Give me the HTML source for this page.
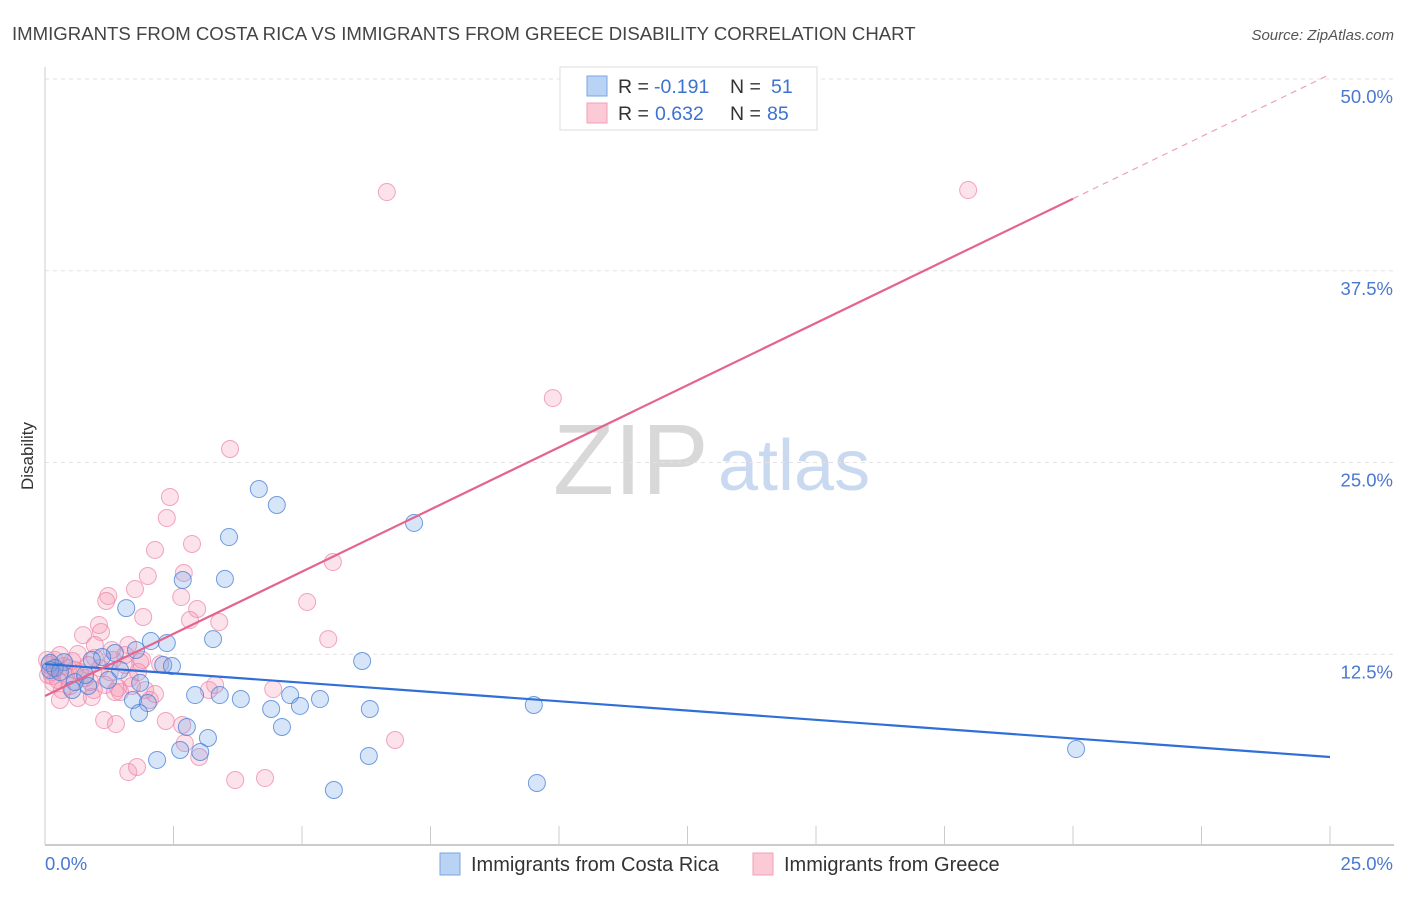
<!DOCTYPE html>
<html><head><meta charset="utf-8">
<style>
body{margin:0;background:#fff;font-family:"Liberation Sans",sans-serif;}
svg text{font-family:"Liberation Sans",sans-serif;}
</style></head>
<body>
<svg width="1406" height="892" viewBox="0 0 1406 892" xmlns="http://www.w3.org/2000/svg">
<text x="12" y="40" font-size="18.6" fill="#444">IMMIGRANTS FROM COSTA RICA VS IMMIGRANTS FROM GREECE DISABILITY CORRELATION CHART</text>
<text x="1394" y="40" font-size="15" fill="#555" font-style="italic" text-anchor="end">Source: ZipAtlas.com</text>
<text transform="translate(33,456) rotate(-90)" font-size="17" fill="#333" text-anchor="middle">Disability</text>
<g>
<text x="553" y="494" font-size="100" fill="#d8d8d8" font-family="Liberation Serif, serif">ZIP</text>
<text x="718" y="490" font-size="72" fill="#c9d9f0">atlas</text>
</g>
<g id="grid"></g>
<g id="axes"></g>
<g id="pts"></g>
<g id="lines"></g>
<g>
<rect x="560" y="67" width="257" height="63" fill="#fff" stroke="#ddd"/>
<rect x="587" y="76" width="20" height="20" fill="#b9d3f5" stroke="#7aa6e4"/>
<rect x="587" y="103" width="20" height="20" fill="#fcc9d7" stroke="#f0a0b8"/>
<text x="618" y="93" font-size="19.5" fill="#333">R = </text><text x="654" y="93" font-size="19.5" fill="#3d72d0">-0.191</text>
<text x="730" y="93" font-size="19.5" fill="#333">N = </text><text x="771" y="93" font-size="19.5" fill="#3d72d0">51</text>
<text x="618" y="120" font-size="19.5" fill="#333">R = </text><text x="655" y="120" font-size="19.5" fill="#3d72d0">0.632</text>
<text x="730" y="120" font-size="19.5" fill="#333">N = </text><text x="767" y="120" font-size="19.5" fill="#3d72d0">85</text>
</g>
<g>
<rect x="440" y="853" width="20" height="22" fill="#b9d3f5" stroke="#7aa6e4"/>
<text x="471" y="871" font-size="20" fill="#333">Immigrants from Costa Rica</text>
<rect x="753" y="853" width="20" height="22" fill="#fcc9d7" stroke="#f0a0b8"/>
<text x="784" y="871" font-size="20" fill="#333">Immigrants from Greece</text>
</g>
</svg>
<script>
const xTicks=[0,2.5,5,7.5,10,12.5,15,17.5,20,22.5,25];
const yTicks=[12.5,25,37.5,50];
const yTickLabels=["12.5%","25.0%","37.5%","50.0%"];
const xEndLabels=["0.0%","25.0%"];
const blueX=[4.16,4.51,7.18,3.58,3.50,2.68,1.58,2.06,2.37,3.27,1.77,6.17,2.30,2.47,1.36,1.11,0.91,0.37,0.10,0.19,0.58,0.84,1.23,1.46,1.85,2.92,3.40,3.81,4.77,5.35,4.96,4.40,6.32,9.51,1.71,2.00,1.83,2.76,3.17,4.61,2.63,3.02,2.18,6.30,20.06,5.62,9.57,0.10,0.29,0.53,0.78];
const blueY=[23.27,22.23,21.06,20.14,17.41,17.34,15.51,13.36,13.23,13.49,12.78,12.06,11.80,11.73,12.58,12.32,12.13,11.99,11.93,11.60,10.69,10.43,10.82,11.47,10.63,9.84,9.84,9.58,9.84,9.58,9.13,8.93,8.93,9.19,9.52,9.32,8.67,7.76,7.04,7.76,6.26,6.13,5.61,5.87,6.32,3.65,4.11,11.47,11.34,10.17,11.15];
const pinkX=[6.65,17.96,9.88,3.60,2.43,2.37,2.86,2.14,2.70,2.00,5.60,1.75,1.23,1.19,2.65,5.10,2.96,1.91,2.82,1.05,3.39,1.09,0.74,5.51,1.85,0.64,0.97,1.32,1.56,0.45,0.14,0.06,0.25,0.49,0.95,1.65,1.42,1.95,2.14,1.26,0.78,0.33,0.64,0.91,1.46,3.19,3.31,4.44,6.81,1.15,1.38,2.35,2.67,2.72,3.00,1.62,1.79,3.70,4.28,0.37,0.19,0.58,0.84,1.07,0.08,1.62,1.30,0.29,1.69,2.04,0.04,0.14,0.41,0.53,0.68,0.88,1.17,1.36,1.56,1.81,1.89,0.29,0.97,2.24,0.16];
const pinkY=[42.63,42.76,29.2,25.88,22.75,21.38,19.69,19.30,17.80,17.60,18.51,16.75,16.30,15.97,16.23,15.91,15.45,14.93,14.73,14.41,14.60,13.95,13.75,13.49,12.0,12.52,12.26,12.13,11.80,11.60,11.34,11.15,10.82,10.43,10.17,10.95,10.30,10.17,9.91,11.34,10.95,10.17,9.65,9.71,10.04,10.17,10.50,10.23,6.91,8.21,7.95,8.15,7.89,6.71,5.80,4.82,5.15,4.30,4.43,11.73,12.13,11.47,11.80,11.60,11.80,13.10,12.78,9.52,10.43,9.52,12.13,11.08,11.08,12.06,11.34,10.69,10.5,10.04,12.45,11.34,12.13,12.45,13.10,11.86,10.63];
const blueTrend=[11.86,5.8];
const pinkTrend=[9.78,50.3];
const pinkSolidEnd=20;

const X0=45,X1=1330,Y0=846,PXY=767/50;
const sx=v=>X0+v/25*(X1-X0);
const sy=v=>Y0-v*PXY;
const NS="http://www.w3.org/2000/svg";
function mk(tag,attrs,parent){const e=document.createElementNS(NS,tag);for(const k in attrs)e.setAttribute(k,attrs[k]);parent.appendChild(e);return e;}
const grid=document.getElementById('grid'),axes=document.getElementById('axes'),pts=document.getElementById('pts'),lines=document.getElementById('lines');
yTicks.forEach((t,i)=>{
 const g=mk('line',{x1:X0,x2:1394,y1:sy(t),y2:sy(t),stroke:'#e2e2e2','stroke-dasharray':'4,4'},grid);
 
 
 const l=mk('text',{x:1393,y:sy(t)+24,'font-size':18.5,fill:'#4a78d0','text-anchor':'end'},axes);
 l.textContent=yTickLabels[i];
 
 
});
const ya=mk('line',{x1:X0,x2:X0,y1:67,y2:845,stroke:'#ccc'},axes);


const xa=mk('line',{x1:X0,x2:1394,y1:845,y2:845,stroke:'#bbb','stroke-width':1.5},axes);


xTicks.forEach(t=>{
 const tk=mk('line',{x1:sx(t),x2:sx(t),y1:826,y2:845,stroke:'#ccc'},axes);
 
 
});
const xl0=mk('text',{x:45,y:870,'font-size':18.5,fill:'#4a78d0'},axes);xl0.textContent=xEndLabels[0];


const xl1=mk('text',{x:1393,y:870,'font-size':18.5,fill:'#4a78d0','text-anchor':'end'},axes);xl1.textContent=xEndLabels[1];


pinkX.forEach((x,i)=>{
 const c=mk('circle',{cx:sx(x),cy:sy(pinkY[i]),r:8.5,fill:'rgba(244,150,178,0.28)',stroke:'rgba(236,130,165,0.7)','stroke-width':1},pts);
 
 
});
blueX.forEach((x,i)=>{
 const c=mk('circle',{cx:sx(x),cy:sy(blueY[i]),r:8.5,fill:'rgba(110,160,230,0.28)',stroke:'rgba(70,125,215,0.75)','stroke-width':1},pts);
 
 
});
const bl=mk('line',{x1:sx(0),y1:sy(blueTrend[0]),x2:sx(25),y2:sy(blueTrend[1]),stroke:'#2f6fd6','stroke-width':2.2},lines);


const pEnd=pinkTrend[0]+(pinkTrend[1]-pinkTrend[0])*pinkSolidEnd/25;
const pl=mk('line',{x1:sx(0),y1:sy(pinkTrend[0]),x2:sx(pinkSolidEnd),y2:sy(pEnd),stroke:'#e4648e','stroke-width':2.2},lines);


const pd=mk('line',{x1:sx(pinkSolidEnd),y1:sy(pEnd),x2:sx(25),y2:sy(pinkTrend[1]),stroke:'#f0a0b8','stroke-width':1.2,'stroke-dasharray':'6,5'},lines);


</script>
</body></html>
